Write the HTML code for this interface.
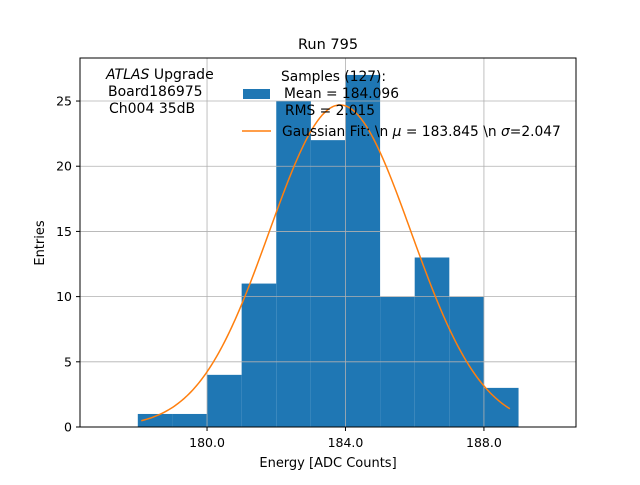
<!DOCTYPE html>
<html><head><meta charset="utf-8"><style>body{margin:0;background:#fff}svg{font-family:"DejaVu Sans","Liberation Sans",sans-serif}</style></head>
<body>
<svg id="c" width="640" height="480" xmlns="http://www.w3.org/2000/svg">
<rect width="640" height="480" fill="#fff"/>
<text x="328" y="49" font-size="14.5" text-anchor="middle">Run 795</text>
<g id="bars"></g><g id="grid"></g><g id="fit"></g><g id="ticks"></g>
<rect x="80" y="58" width="496" height="369" fill="none" stroke="#000" stroke-width="1"/>
<text x="328" y="467" font-size="13" text-anchor="middle">Energy [ADC Counts]</text>
<text x="44" y="243" font-size="13" text-anchor="middle" transform="rotate(-90 44 243)">Entries</text>
<g font-size="14">
<text x="106" y="79"><tspan font-style="italic">ATLAS</tspan> Upgrade</text>
<text x="108" y="96">Board186975</text>
<text x="109" y="113">Ch004 35dB</text>
</g>
<g font-size="13.8">
<text x="281" y="81">Samples (127):</text>
<rect x="243" y="89" width="27" height="10" fill="#1f77b4"/>
<text x="284" y="98">Mean = 184.096</text>
<text x="285" y="115">RMS = 2.015</text>
<line x1="242" y1="131" x2="271" y2="131" stroke="#ff7f0e" stroke-width="1.5"/>
<text x="282" y="136">Gaussian Fit: \n <tspan font-style="italic">μ</tspan> = 183.845 \n <tspan font-style="italic">σ</tspan>=2.047</text>
</g>
</svg>
<script>
const binEdges=[178,179,180,181,182,183,184,185,186,187,188];
const counts=[1,1,4,11,25,22,27,10,13,10,3];
const xTicks=[180,184,188];
const xTickLabels=["180.0","184.0","188.0"];
const yTicks=[0,5,10,15,20,25];
const fitMu=[183.845];
const fitSigma=[2.047];
const fitAmp=[24.7];
const fitRange=[178.1,188.75];
const ns="http://www.w3.org/2000/svg";
const X=v=>80+(v-176.33)*(496/(190.66-176.33));
const Y=v=>427-v*(369/28.3);
function mk(t,a,p){const e=document.createElementNS(ns,t);for(const k in a)e.setAttribute(k,a[k]);document.getElementById(p).appendChild(e);return e;}
counts.forEach((c,i)=>{const x0=X(binEdges[i]),x1=X(binEdges[i]+1);
const r=mk('rect',{x:x0,y:Y(c),width:x1-x0,height:Y(0)-Y(c),fill:'#1f77b4'},'bars');

});
xTicks.forEach((t,i)=>{const l=mk('line',{x1:X(t),x2:X(t),y1:58,y2:427,stroke:'#b0b0b0','stroke-width':0.8},'grid');


mk('line',{x1:X(t),x2:X(t),y1:427,y2:431,stroke:'#000'},'ticks');
const tx=mk('text',{x:X(t),y:447,'font-size':12.5,'text-anchor':'middle'},'ticks');tx.textContent=xTickLabels[i];

});
yTicks.forEach(t=>{const l=mk('line',{x1:80,x2:576,y1:Y(t),y2:Y(t),stroke:'#b0b0b0','stroke-width':0.8},'grid');


mk('line',{x1:76,x2:80,y1:Y(t),y2:Y(t),stroke:'#000'},'ticks');
const tx=mk('text',{x:72,y:Y(t)+4.5,'font-size':12.5,'text-anchor':'end'},'ticks');tx.textContent=t;

});
let d='';for(let i=0;i<=200;i++){const v=fitRange[0]+(fitRange[1]-fitRange[0])*i/200;
const y=fitAmp[0]*Math.exp(-0.5*Math.pow((v-fitMu[0])/fitSigma[0],2));d+=(i?'L':'M')+X(v).toFixed(2)+','+Y(y).toFixed(2);}
const p=mk('path',{d:d,fill:'none',stroke:'#ff7f0e','stroke-width':1.5},'fit');


</script>
</body></html>
